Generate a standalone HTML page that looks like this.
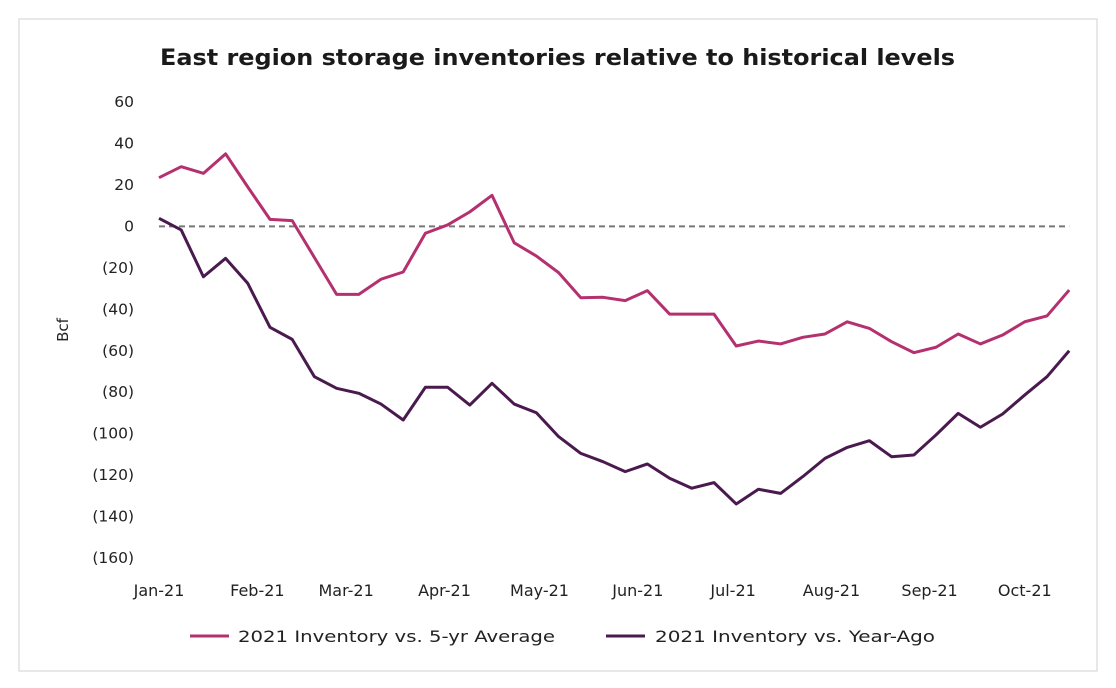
<!DOCTYPE html>
<html><head><meta charset="utf-8"><style>
html,body{margin:0;padding:0;background:#fff;}
svg{display:block;font-family:"DejaVu Sans","Liberation Sans",sans-serif;}
</style></head><body>
<svg id="chart" width="1116" height="688">
<rect x="19" y="19" width="1078" height="652" fill="#fff" stroke="#d0d0d0"/>
<text x="160" y="65" textLength="795" lengthAdjust="spacingAndGlyphs" font-size="22" font-weight="bold" fill="#1a1a1a">East region storage inventories relative to historical levels</text>
<text transform="translate(68,330) rotate(-90)" text-anchor="middle" font-size="15" fill="#222">Bcf</text>
<g id="yticks"></g><g id="xticks"></g><g id="plot"></g>
<g>
<line x1="190" y1="636" x2="229" y2="636" stroke="#b5306f" stroke-width="3"/>
<text x="238" y="642" textLength="317" lengthAdjust="spacingAndGlyphs" font-size="16" fill="#222">2021 Inventory vs. 5-yr Average</text>
<line x1="606" y1="636" x2="645" y2="636" stroke="#4a1a4f" stroke-width="3"/>
<text x="655" y="642" textLength="280" lengthAdjust="spacingAndGlyphs" font-size="16" fill="#222">2021 Inventory vs. Year-Ago</text>
</g>
</svg>
<script>
const yTicks=[60,40,20,0,-20,-40,-60,-80,-100,-120,-140,-160];
const monthLabels=["Jan-21","Feb-21","Mar-21","Apr-21","May-21","Jun-21","Jul-21","Aug-21","Sep-21","Oct-21"];
const monthWeekPos=[0,4.43,8.43,12.86,17.14,21.57,25.86,30.29,34.71,39];
const vs5yr=[23.5,28.8,25.6,35,19,3.4,2.8,-15,-32.8,-32.8,-25.5,-22,-3.3,0.7,7,15,-7.9,-14.3,-22.3,-34.4,-34.2,-35.8,-31,-42.3,-42.3,-42.3,-57.7,-55.3,-56.7,-53.5,-51.9,-46,-49.2,-55.6,-60.9,-58.3,-51.9,-56.7,-52.4,-46,-43.2,-30.7];
const vsYearAgo=[3.9,-1.7,-24.3,-15.4,-27.5,-48.7,-54.5,-72.5,-78.1,-80.5,-85.7,-93.4,-77.6,-77.6,-86.2,-75.7,-85.7,-89.9,-101.4,-109.5,-113.5,-118.3,-114.6,-121.5,-126.3,-123.6,-133.9,-126.8,-128.8,-120.7,-111.9,-106.6,-103.4,-111.1,-110.3,-100.6,-90.2,-96.9,-90.5,-81.3,-72.5,-60];
const NS="http://www.w3.org/2000/svg";
const yS=v=>226.4-v*2.073;
const xS=i=>159+i*22.2;
function mk(t,a,p){const e=document.createElementNS(NS,t);for(const k in a)e.setAttribute(k,a[k]);p.appendChild(e);return e;}
const yg=document.getElementById('yticks');
yTicks.forEach(v=>{const t=mk('text',{x:134,y:yS(v)+5,'text-anchor':'end','font-size':15.5,fill:'#222'},yg);
t.textContent=v<0?'('+(-v)+')':String(v);

});
const xg=document.getElementById('xticks');
monthLabels.forEach((m,i)=>{const t=mk('text',{x:xS(monthWeekPos[i]),y:596,'text-anchor':'middle','font-size':16,fill:'#222'},xg);
t.textContent=m;

});
const pg=document.getElementById('plot');
const z=mk('line',{x1:xS(0),x2:xS(vs5yr.length-1),y1:yS(0),y2:yS(0),stroke:'#777','stroke-width':2,'stroke-dasharray':'6,4'},pg);


function line(d,c,n){const p=mk('polyline',{points:d.map((v,i)=>xS(i)+','+yS(v)).join(' '),fill:'none',stroke:c,'stroke-width':3,'stroke-linejoin':'round'},pg);

}
line(vs5yr,'#b5306f','series-vs-5yr-average');
line(vsYearAgo,'#4a1a4f','series-vs-year-ago');
</script>
</body></html>
